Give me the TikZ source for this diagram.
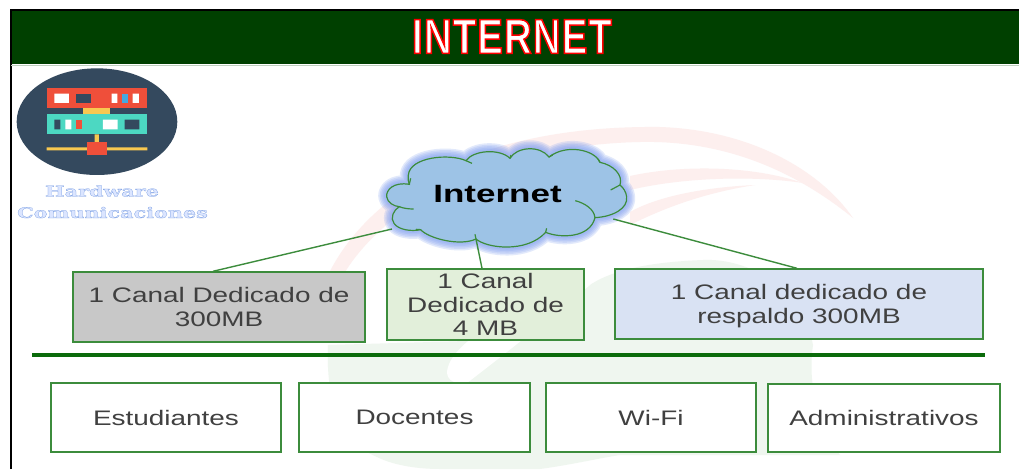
\documentclass[tikz,border=0pt]{standalone}
\usepackage{fontspec}
\setmainfont{Liberation Sans}
\newfontfamily\bodyf[FakeStretch=1.33]{Liberation Sans}
\newfontfamily\cloudf[FakeStretch=1.4]{Liberation Sans Bold}
\newfontfamily\titlef[FakeStretch=0.78,FakeBold=3,LetterSpace=2.5]{Liberation Sans Bold}
\newfontfamily\hwf[FakeStretch=1.43,FakeBold=1.6]{DejaVu Serif Bold}
\definecolor{banner}{HTML}{004000}
\definecolor{edgegreen}{HTML}{3C8C3C}
\definecolor{rulegreen}{HTML}{0B6B0B}
\definecolor{bodygray}{HTML}{404040}
\definecolor{cloudblue}{HTML}{9DC3E6}
\definecolor{glowblue}{HTML}{7F9FF0}
\definecolor{wmpink}{HTML}{FDEFEE}
\definecolor{wmgreen}{HTML}{EFF6EF}
\definecolor{iconnavy}{HTML}{34495E}
\definecolor{iconred}{HTML}{EF4F3A}
\definecolor{iconteal}{HTML}{4CD8C2}
\definecolor{iconyellow}{HTML}{F8C850}
\definecolor{iconblue}{HTML}{45A8E0}
\definecolor{boxgrey}{HTML}{C8C8C8}
\definecolor{boxgreen}{HTML}{E2EFDA}
\definecolor{boxblue}{HTML}{D9E2F3}
\tikzset{
  box/.style={draw=edgegreen,line width=1.4pt,inner sep=0pt,align=center,text=bodygray,
    font=\bodyf\fontsize{21}{23.8}\selectfont},
  link/.style={draw=edgegreen,line width=1.4pt},
}
\def\cloudshape{(118,148)
 .. controls (70,140) and (48,165) .. (50,185)
 .. controls (52,203) and (72,214) .. (88,215)
 .. controls (70,225) and (60,250) .. (72,265)
 .. controls (85,285) and (125,290) .. (152,284)
 .. controls (175,310) and (270,335) .. (318,312)
 .. controls (350,340) and (470,355) .. (527,292)
 .. controls (570,310) and (660,310) .. (675,248)
 .. controls (730,245) and (775,220) .. (770,185)
 .. controls (768,170) and (760,158) .. (750,150)
 .. controls (760,120) and (730,90) .. (690,82)
 .. controls (675,45) and (590,25) .. (537,66)
 .. controls (510,30) and (440,35) .. (420,70)
 .. controls (390,40) and (310,45) .. (288,77)
 .. controls (240,55) and (120,65) .. (115,120)
 .. controls (113,130) and (115,140) .. (118,148) -- cycle}
\begin{document}
\begin{tikzpicture}[x=1pt,y=-1pt]
\useasboundingbox (0,0) rectangle (1019,469);
\fill[white] (0,0) rectangle (1019,469);
% watermark
\fill[wmpink] (328,275) .. controls (370,190) and (480,125) .. (660,127) .. controls (750,130) and (820,170) .. (853,218) .. controls (800,175) and (730,140) .. (640,142) .. controls (500,145) and (390,200) .. (345,272) -- cycle;
\fill[wmpink] (630,176) .. controls (680,165) and (750,165) .. (803,183) .. controls (750,175) and (680,178) .. (630,190) -- cycle;
\fill[wmpink] (630,212) .. controls (660,195) and (710,187) .. (755,185) .. controls (710,192) and (670,205) .. (630,225) -- cycle;
\fill[wmgreen] (328,345) .. controls (326,390) and (335,440) .. (377,457) .. controls (395,466) and (420,469) .. (440,469) -- (540,469) .. controls (570,465) and (600,458) .. (620,455) -- (840,455) .. controls (815,420) and (808,380) .. (813,345) .. controls (800,280) and (740,258) .. (703,260) .. controls (650,262) and (610,270) .. (587,287) -- (500,340) -- cycle;
\fill[white] (447,372) .. controls (450,340) and (520,305) .. (590,285) .. controls (560,310) and (510,350) .. (467,383) .. controls (455,385) and (447,380) .. (447,372) -- cycle;
% banner
\fill[banner] (10,10) rectangle (1019,64);
\draw[black,line width=2pt] (10.5,469) -- (10.5,9.5) -- (1019,9.5);
\draw[white!75!banner,line width=1pt] (11,65) -- (1019,65);
\node[inner sep=0pt,font=\titlef\fontsize{49}{49}\selectfont] (title) at (512,36.5) {\special{pdf:bcolor [1 1 1] [1 0 0]}INTERNET\special{pdf:ecolor}};
% icon
\begin{scope}[shift={(0,0)},x=0.3333pt,y=-0.3333pt]
\fill[iconnavy] (291,365) ellipse [x radius=241,y radius=160];
\fill[iconyellow] (250,325) rectangle (330,343);
\fill[iconred] (140,265) rectangle (442,325);
\fill[iconteal] (140,343) rectangle (442,403);
\fill[white] (163,281) rectangle (207,309) (335,281) rectangle (352,309) (398,281) rectangle (417,309);
\fill[iconnavy] (229,281) rectangle (273,309);
\fill[iconblue] (367,281) rectangle (385,309);
\fill[iconnavy] (163,359) rectangle (181,388) (374,359) rectangle (418,388);
\fill[white] (196,359) rectangle (214,388) (309,359) rectangle (353,388);
\fill[iconred] (229,359) rectangle (247,388);
\fill[iconyellow] (284,403) rectangle (297,430) (140,442) rectangle (442,451);
\fill[iconred] (262,427) rectangle (320,466);
\end{scope}
\node[inner sep=0pt,font=\hwf\fontsize{14.5}{15}\selectfont] (hw1) at (102,191) {\special{pdf:bcolor [0.86 0.9 1] [0.45 0.6 0.88]}Hardware\special{pdf:ecolor}};
\node[inner sep=0pt,font=\hwf\fontsize{14.5}{15}\selectfont] (hw2) at (112.5,212.5) {\special{pdf:bcolor [0.86 0.9 1] [0.45 0.6 0.88]}Comunicaciones\special{pdf:ecolor}};
% cloud
\begin{scope}[shift={(370,135)},x=0.3333pt,y=-0.3333pt]
\foreach \w in {17,14,11,8,5}{\draw[glowblue,opacity=.22,line width=\w pt,line join=round] \cloudshape;}
\filldraw[fill=cloudblue,draw=edgegreen,line width=1.2pt] \cloudshape;
\draw[edgegreen,line width=1.2pt]
 (88,215) .. controls (100,220) and (115,222) .. (131,222)
 (152,284) -- (138,283)
 (318,312) -- (315,298)
 (527,292) -- (530,280)
 (675,248) .. controls (672,222) and (645,205) .. (616,197)
 (750,150) -- (722,165)
 (690,82) -- (684,72)
 (537,66) -- (548,60)
 (420,70) -- (423,60)
 (288,77) -- (306,85)
 (118,148) -- (122,130);
\coordinate (cloudA) at (66,282);
\coordinate (cloudB) at (318,312);
\coordinate (cloudC) at (730,252);
\end{scope}
\node[inner sep=0pt,text=black,font=\cloudf\fontsize{25}{25}\selectfont] (inet) at (497.5,194) {Internet};
% channel boxes
\node[box,fill=boxgrey,minimum width=292pt,minimum height=70pt] (grey) at (219,307) {1 Canal Dedicado de\\300MB};
\node[box,fill=boxgreen,minimum width=197pt,minimum height=71pt] (lgreen) at (485.5,304.5) {1 Canal\\Dedicado de\\4 MB};
\node[box,fill=boxblue,minimum width=368pt,minimum height=70pt] (lblue) at (799,304) {1 Canal dedicado de\\\raisebox{0pt}[\height][0pt]{respaldo 300MB}};
\draw[link] (cloudA) -- ([xshift=-6pt]grey.north);
\draw[link] (cloudB) -- ([xshift=-3.5pt]lgreen.north);
\draw[link] (cloudC) -- ([xshift=-2pt]lblue.north);
% rule
\coordinate (ruleL) at (32,355);
\coordinate (ruleR) at (985,355);
\draw[rulegreen,line width=3.5pt] (ruleL) -- (ruleR);
% audience boxes
\node[box,fill=white,minimum width=230pt,minimum height=69pt] (est) at (166,417.5) {Estudiantes};
\node[box,fill=white,minimum width=231pt,minimum height=69pt] (doc) at (414.5,417.5) {Docentes};
\node[box,fill=white,minimum width=210pt,minimum height=69pt] (wifi) at (651,417.5) {Wi-Fi};
\node[box,fill=white,minimum width=232pt,minimum height=68pt] (adm) at (884,418) {Administrativos};
\end{tikzpicture}
\end{document}
